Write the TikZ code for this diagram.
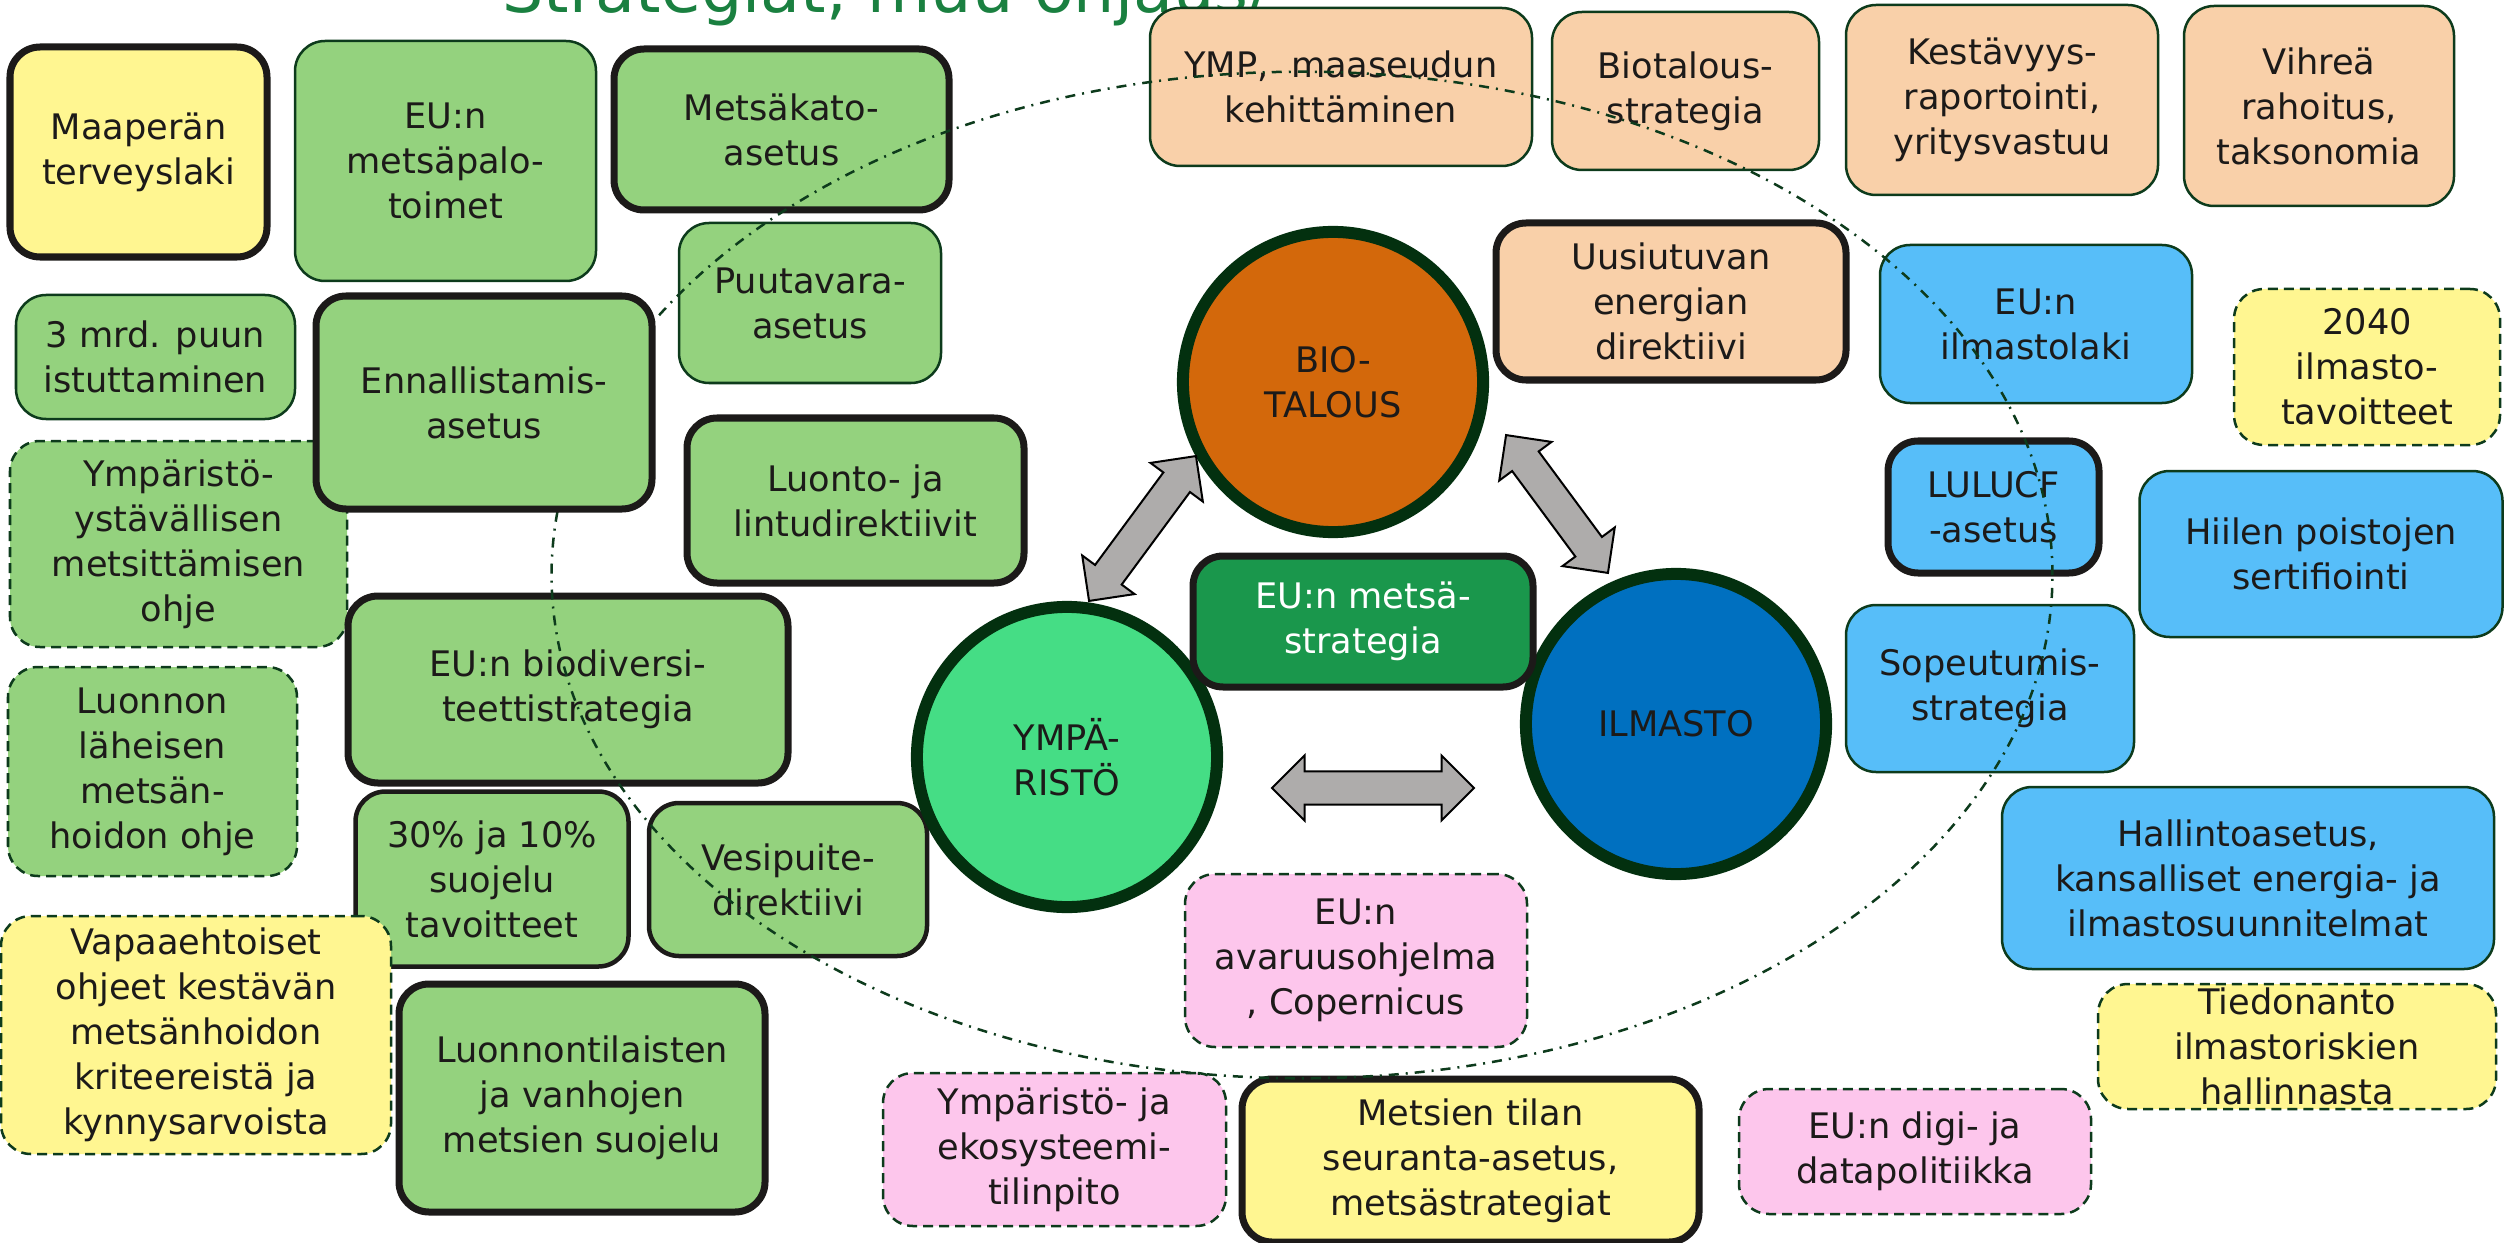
\documentclass[tikz,border=0pt]{standalone}
\usepackage{fontspec}
\setmainfont{DejaVu Sans}
\usetikzlibrary{calc,shapes.arrows}

\definecolor{leaf}{HTML}{94D27E}
\definecolor{sun}{HTML}{FFF691}
\definecolor{peach}{HTML}{F9D0A9}
\definecolor{sky}{HTML}{57BEF9}
\definecolor{rosa}{HTML}{FDC6EC}
\definecolor{forest}{HTML}{1A974C}
\definecolor{bioorange}{HTML}{D3680B}
\definecolor{envgreen}{HTML}{45DD85}
\definecolor{climblue}{HTML}{0070C0}
\definecolor{ringgreen}{HTML}{03300F}
\definecolor{edgegreen}{HTML}{0D3B1C}
\definecolor{inkblack}{HTML}{1C1A19}
\definecolor{arrowgray}{HTML}{AEACAB}
\definecolor{titlegreen}{HTML}{1A8040}

\newcommand{\boxfont}{\fontsize{10pt}{12.8pt}\selectfont}

\tikzset{
  plate/.style={rounded corners=0.3cm, align=center, inner sep=0pt, text=inkblack, font=\boxfont},
  sz/.style 2 args={minimum width=#1*0.01cm, minimum height=#2*0.01cm},
  thinbox/.style={plate, draw=edgegreen, line width=0.025cm},
  thickbox/.style={plate, draw=inkblack, line width=0.07cm},
  midbox/.style={plate, draw=inkblack, line width=0.045cm},
  dashbox/.style={plate, draw=edgegreen, line width=0.025cm, dash pattern=on 0.1cm off 0.06cm},
  hub/.style={circle, draw=ringgreen, line width=0.12cm, minimum size=3cm, inner sep=0pt, align=center, text=inkblack, font=\boxfont},
  bigarrow/.style={double arrow, draw=black, line width=0.02cm, fill=arrowgray, inner xsep=0pt, inner ysep=0.155cm, double arrow head extend=0.16cm, minimum width=0.63cm},
  ringline/.style={edgegreen, line width=0.025cm, dash pattern=on 0.1cm off 0.07cm on 0.02cm off 0.07cm},
}

% block arrow from one point to another
\newcommand{\linkarrow}[3]{%
  \path let \p1=(#2), \p2=(#3),
    \n1={veclen(\x2-\x1,\y2-\y1)}, \n2={atan2(\y2-\y1,\x2-\x1)} in
    node[bigarrow, minimum height=\n1, rotate=\n2] (#1) at ($(\p1)!0.5!(\p2)$) {};}

\begin{document}
\begin{tikzpicture}[x=0.01cm, y=-0.01cm]
  \useasboundingbox (0,0) rectangle (2504,1243);

  \node[anchor=base west, font=\fontsize{18.5pt}{22pt}\selectfont, text=titlegreen] (title) at (490,13) {Strategiat, muu ohjaus/};

  % left: nature and forests
  \node[thickbox, fill=sun, sz={257}{210}] (maapera) at (138.5,152) {Maaperän\\terveyslaki};
  \node[thinbox, fill=leaf, sz={301}{240}] (metsapalo) at (445.5,161) {EU:n\\metsäpalo-\\toimet};
  \node[thickbox, fill=leaf, sz={335}{161}] (metsakato) at (781.5,129.5) {Metsäkato-\\asetus};
  \node[thinbox, fill=leaf, sz={262}{160}] (puutavara) at (810,303) {Puutavara-\\asetus};
  \node[thinbox, fill=leaf, sz={279}{124}] (istutus) at (155.5,357) {3 mrd. puun\\istuttaminen};
  \node[dashbox, fill=leaf, sz={337}{206}] (metsitys) at (178.5,544) {Ympäristö-\\ystävällisen\\metsittämisen\\ohje};
  \node[thickbox, fill=leaf, sz={337}{165}] (luontodir) at (855.5,500.5) {Luonto- ja\\lintudirektiivit};
  \node[thickbox, fill=leaf, sz={440}{187}] (biodiv) at (568,689.5) {EU:n biodiversi-\\teettistrategia};
  \node[dashbox, fill=leaf, sz={289}{209}] (lahimetsa) at (152.5,771.5) {Luonnon\\läheisen\\metsän-\\hoidon ohje};
  \node[midbox, fill=leaf, sz={273}{175}] (suojelu) at (492,879) {30\% ja 10\%\\suojelu\\tavoitteet};
  \node[midbox, fill=leaf, sz={278}{153}] (vesipuite) at (788,879.5) {Vesipuite-\\direktiivi};
  \node[dashbox, fill=sun, sz={390}{238}] (vapaaeht) at (196,1035) {Vapaaehtoiset\\ohjeet kestävän\\metsänhoidon\\kriteereistä ja\\kynnysarvoista};
  \node[thickbox, fill=leaf, sz={366}{228}] (vanhat) at (582,1098) {Luonnontilaisten\\ja vanhojen\\metsien suojelu};

  % bottom
  \node[dashbox, fill=rosa, sz={343}{153}] (tilinpito) at (1054.5,1149.5) {Ympäristö- ja\\ekosysteemi-\\tilinpito};
  \node[thickbox, fill=sun, sz={457}{163}] (seuranta) at (1470.5,1160.5) {Metsien tilan\\seuranta-asetus,\\metsästrategiat};
  \node[dashbox, fill=rosa, sz={352}{125}] (digi) at (1915,1151.5) {EU:n digi- ja\\datapolitiikka};
  \node[dashbox, fill=rosa, sz={342}{173}] (avaruus) at (1356,960.5) {EU:n\\avaruusohjelma\\, Copernicus};

  % top: bioeconomy
  \node[thinbox, fill=peach, sz={382}{158}] (maaseutu) at (1341,87) {YMP, \ maaseudun\\kehittäminen};
  \node[thinbox, fill=peach, sz={267}{158}] (biotalstrat) at (1685.5,91) {Biotalous-\\strategia};
  \node[thinbox, fill=peach, sz={312}{190}] (kestavyys) at (2002,100) {Kestävyys-\\raportointi,\\yritysvastuu};
  \node[thinbox, fill=peach, sz={270}{200}] (vihrea) at (2319,106) {Vihreä\\rahoitus,\\taksonomia};
  \node[thickbox, fill=peach, sz={350}{157}] (uusiutuva) at (1671,301.5) {Uusiutuvan\\energian\\direktiivi};

  % right: climate
  \node[thinbox, fill=sky, sz={312}{158}] (ilmastolaki) at (2036,324) {EU:n\\ilmastolaki};
  \node[dashbox, fill=sun, sz={266}{156}] (tavoite) at (2367,367) {2040\\ilmasto-\\tavoitteet};
  \node[thickbox, fill=sky, sz={211}{132}] (lulucf) at (1993.5,507) {LULUCF\\-asetus};
  \node[thinbox, fill=sky, sz={363}{166}] (hiili) at (2321,554) {Hiilen poistojen\\sertifiointi};
  \node[thinbox, fill=sky, sz={288}{167}] (sopeutumis) at (1990,688.5) {Sopeutumis-\\strategia};
  \node[thinbox, fill=sky, sz={492}{182}] (hallinto) at (2248,878) {Hallintoasetus,\\kansalliset energia- ja\\ilmastosuunnitelmat};
  \node[dashbox, fill=sun, sz={398}{125}] (tiedonanto) at (2297,1046.5) {Tiedonanto\\ilmastoriskien\\hallinnasta};

  % scope of the forest strategy
  \draw[ringline] (1302,575) ellipse [x radius=7.5cm, y radius=5.03cm];

  \node[thickbox, fill=leaf, sz={336}{213}] (ennallistamis) at (484,402.5) {Ennallistamis-\\asetus};

  % centre
  \node[hub, fill=bioorange] (biotalous) at (1333,382) {BIO-\\TALOUS};
  \node[hub, fill=envgreen] (ymparisto) at (1067,757) {YMPÄ-\\RISTÖ};
  \node[hub, fill=climblue] (ilmasto) at (1676,724) {ILMASTO};
  \node[thickbox, fill=forest, text=white, sz={340}{131}] (metsastrat) at (1363,621.5) {EU:n metsä-\\strategia};

  \linkarrow{a1}{$(ymparisto.center)+(22,-156)$}{$(biotalous.center)+(-137,74)$}
  \linkarrow{a2}{$(biotalous.center)+(173,53)$}{$(ilmasto.center)+(-68,-151)$}
  \linkarrow{a3}{$(ymparisto.center)+(205,31)$}{$(ilmasto.center)+(-202,64)$}
\end{tikzpicture}
\end{document}
